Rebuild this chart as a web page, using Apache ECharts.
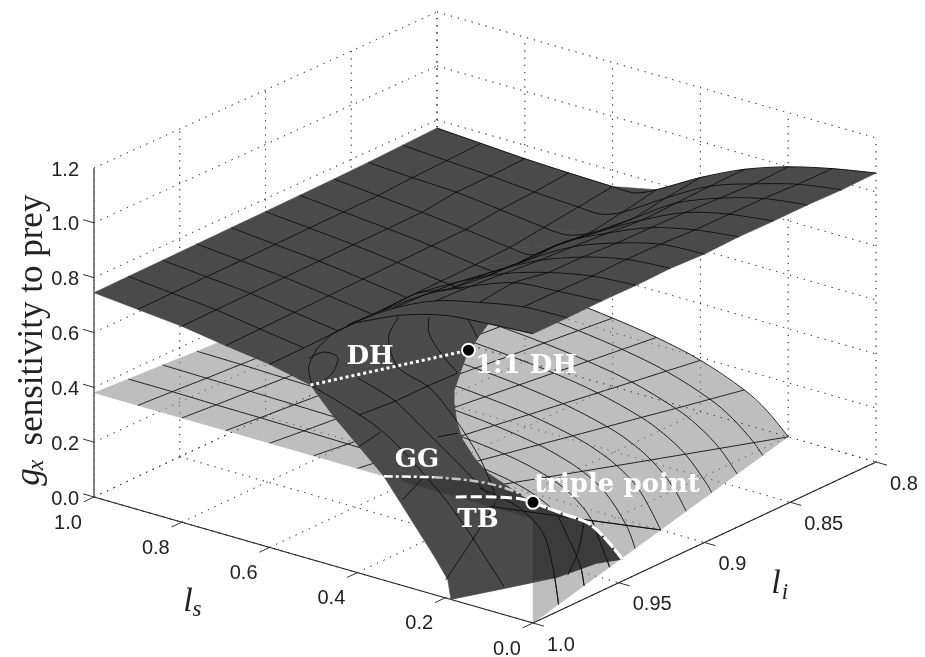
<!DOCTYPE html>
<html><head><meta charset="utf-8">
<script src="https://cdn.jsdelivr.net/npm/echarts@6/dist/echarts.min.js"></script>
<style>html,body{margin:0;padding:0;background:#fff}#c{width:925px;height:657px}</style></head>
<body><div id="c"></div>
<script>
// ---- tick labels ----
const lsTicks = [1.0, 0.8, 0.6, 0.4, 0.2, 0.0];
const liTicks = [1.0, 0.95, 0.9, 0.85, 0.8];
const gxTicks = [0.0, 0.2, 0.4, 0.6, 0.8, 1.0, 1.2];
const liLabels = ['1.0', '0.95', '0.9', '0.85', '0.8'];

// ---- surface rows: one row per li value ----
const liRows = [1, 0.98, 0.96, 0.94, 0.92, 0.9, 0.88, 0.86, 0.84, 0.82, 0.8];

// lower (light) sheet, gx by li row and ls column; null = past the gx=0 rim
const lowLs = [0.05, 0.1, 0.15, 0.2, 0.25, 0.3, 0.4, 0.5, 0.6, 0.7, 0.8, 0.9, 1];
const lowGx = [
  [.38, .38, .38, .38, .38, .38, .38, .38, .38, .38, .38, .38, .38],
  [.228, .304, .329, .342, .35, .355, .361, .365, .367, .369, .37, .372, .372],
  [.076, .228, .279, .304, .319, .329, .342, .35, .355, .358, .361, .363, .365],
  [null, .152, .228, .266, .289, .304, .323, .334, .342, .347, .351, .355, .357],
  [null, .076, .177, .228, .258, .279, .304, .319, .329, .337, .342, .346, .35],
  [null, null, .127, .19, .228, .253, .285, .304, .317, .326, .332, .338, .342],
  [null, null, .076, .152, .198, .228, .266, .289, .304, .315, .323, .329, .334],
  [null, null, .025, .114, .167, .203, .247, .274, .291, .304, .314, .321, .327],
  [null, null, null, .076, .137, .177, .228, .258, .279, .293, .304, .312, .319],
  [null, null, null, .038, .106, .152, .209, .243, .266, .282, .294, .304, .312],
  [null, null, null, null, .076, .127, .19, .228, .253, .271, .285, .296, .304]
];
// ls at which each light row reaches gx = 0
const lowRimLs = [0, .02, .04, .06, .08, .1, .12, .14, .16, .18, .2];

// upper flat part of the dark sheet
const flatLs = [1, 0.9, 0.8, 0.7, 0.6, 0.55];
const flatGx = [
  [.745, .73, .715, .69, .668, null],
  [.747, .732, .717, .693, .67, null],
  [.748, .734, .719, .696, .674, null],
  [.75, .735, .72, .699, .677, null],
  [.752, .737, .722, .702, .68, null],
  [.753, .739, .724, .705, .683, .675],
  [.755, .74, .725, .708, .685, .677],
  [.757, .742, .727, .71, .69, .686],
  [.76, .75, .743, .725, .706, .702],
  [.765, .755, .745, .732, .723, .72],
  [.77, .76, .75, .744, .74, .74]
];
// raised wing of the dark sheet
const wingLs = [0.5, 0.4, 0.3, 0.2, 0.1, 0];
const wingGx = [
  [.73, .912, .985, 1.03, 1.045, 1.055],
  [.8, .905, .98, 1.02, 1.05, 1.056],
  [.795, .9, .975, 1.035, 1.05, 1.06],
  [.8, .89, .965, 1.015, 1.048, 1.06],
  [.76, .87, .955, 1.014, 1.052, 1.065],
  [.745, .855, .948, 1.008, 1.05, 1.06],
  [.74, .86, .94, 1.007, 1.045, 1.066],
  [.74, .84, .93, 1.005, 1.045, 1.066],
  [.73, .83, .935, 1.0, 1.045, 1.068],
  [.75, .85, .94, .995, 1.04, 1.066],
  [.775, .867, .944, 1.0, 1.04, 1.07]
];
// li = 1 edge of the descending tongue: [ls, gx]
const tongueEdge = [[.6, .668], [.507, .635], [.454, .544], [.4, .466], [.342, .383], [.3, .296], [.263, .219], [.225, .14], [.194, .068], [.187, 0]];
// gx = 0 rim of the tongue: [ls, li]
const tongueRim = [[.187, 1], [.145, .98], [.104, .96], [.09, .94], [.066, .931]];
// fold silhouette at li = 1: [ls, gx]
const foldEdge = [[.1, 1.05], [.125, .985], [.153, .9], [.164, .847], [.18, .765], [.18, .717], [.174, .655], [.16, .595], [.133, .54], [.103, .5], [.046, .465], [0, .44]];
// extra mesh curves on the fold at li = 1: [ls, gx]
const foldCurves = [
  [[.5, .631], [.347, .545], [.217, .385], [.142, .256], [.066, .101]],
  [[.4, .71], [.317, .667], [.24, .583], [.171, .505], [.096, .415]],
  [[.306, .975], [.329, .892], [.308, .792], [.237, .751], [.18, .668], [.119, .54], [.082, .411]],
  [[.237, 1.007], [.237, .948], [.21, .888], [.171, .833]],
  [[.148, 1.04], [.126, .982]],
  [[.511, .73], [.477, .769], [.445, .765], [.457, .702], [.5, .631]],
  [[.397, .576], [.308, .672], [.24, .754], [.171, .833]],
  [[.397, .46], [.347, .537]],
  [[.217, .579], [.171, .614]],
  [[.297, .312], [.249, .418]],
  [[.199, .065], [.119, .295], [.084, .403]],
  [[.491, .777], [.511, .70], [.502, .63]],
  [[.4, .914], [.454, .849], [.491, .777]]
];
// bifurcation curves: [ls, li, gx]
const curveDH = [[.507, 1, .635], [.451, .968, .632], [.395, .9365, .63]];
const curveGGa = [[.34, 1, .379], [.226, 1, .428]];
const curveGGb = [[.226, 1, .428], [.148, 1, .453], [.089, 1, .463], [.027, 1, .458], [0, 1, .443]];
const curveTB = [[.176, 1, .379], [.089, 1, .419], [.027, 1, .44], [0, 1, .44]];
const curveRim = [[0, 1, .44], [.014, .98, .336], [.031, .96, .234], [.053, .945, .128], [.066, .931, 0]];
const pointDH = [.395, .9365, .63];
const pointTriple = [0, 1, .44];
const bandPts = [[.3, 1, .38], [0, 1, .38], [0, 1, .157], [.104, .96, 0], [.09, .94, 0], [.066, .931, 0], [.053, .945, .128], [.031, .96, .234], [.014, .98, .336], [0, 1, .44], [.027, 1, .458], [.089, 1, .463], [.148, 1, .453], [.226, 1, .428], [.3, 1, .392]];
const rimCross = [[.04, .96, .23], [.054, .96, .118], [.077, .96, .022]];

// ---- view box: pixel position of the eight data-space corners ----
const box = {
  a0: [94, 497], b0: [533, 623], d0: [437, 336], c0: [876, 462],
  a1: [94, 168], b1: [533, 294], d1: [437, 12], c1: [876, 138]
};
function project(p) {
  const u = 1 - p[0], v = (1 - p[1]) / 0.2, w = p[2] / 1.2;
  const f = i => {
    const lo = (box.a0[i] * (1 - u) + box.b0[i] * u) * (1 - v) + (box.d0[i] * (1 - u) + box.c0[i] * u) * v;
    const hi = (box.a1[i] * (1 - u) + box.b1[i] * u) * (1 - v) + (box.d1[i] * (1 - u) + box.c1[i] * u) * v;
    return lo * (1 - w) + hi * w;
  };
  return [f(0), f(1)];
}

function layer(items) {
  return {
    type: 'custom', coordinateSystem: 'cartesian2d', clip: false, silent: true, animation: false,
    data: items.map((_, i) => [i, i]),
    renderItem(params, api) {
      const it = items[params.dataIndex];
      if (it.text !== undefined) {
        const c = api.coord(it.at);
        return { type: 'text', x: c[0], y: c[1], rotation: it.rot || 0, silent: true,
          style: { text: it.text, font: it.font, fill: it.color || '#222', textAlign: it.align || 'center', textVerticalAlign: 'middle', align: it.align || 'center', verticalAlign: 'middle' } };
      }
      if (it.dot) {
        const c = api.coord(project(it.dot));
        return { type: 'circle', shape: { cx: c[0], cy: c[1], r: 6.5 }, silent: true, style: { fill: '#000', stroke: '#fff', lineWidth: 2 } };
      }
      const pts = it.pts.map(p => api.coord(project(p)));
      return { type: it.fill ? 'polygon' : 'polyline', silent: true,
        shape: { points: pts, smooth: it.smooth || 0 },
        style: { fill: it.fill || 'none', stroke: it.stroke || it.fill, lineWidth: it.w === undefined ? 1 : it.w, lineDash: it.dash || null, opacity: it.op === undefined ? 1 : it.op } };
    }
  };
}

// ---- walls and floor ----
const dotted = [];
const dot = { stroke: '#333', w: 1, dash: [1.2, 6], op: 0.75 };
gxTicks.forEach(z => {
  dotted.push({ pts: [[1, 1, z], [1, .8, z]], ...dot });
  dotted.push({ pts: [[1, .8, z], [0, .8, z]], ...dot });
});
liTicks.forEach(li => {
  dotted.push({ pts: [[1, li, 0], [1, li, 1.2]], ...dot });
  dotted.push({ pts: [[1, li, 0], [0, li, 0]], ...dot });
});
lsTicks.forEach(ls => {
  dotted.push({ pts: [[ls, .8, 0], [ls, .8, 1.2]], ...dot });
  dotted.push({ pts: [[ls, 1, 0], [ls, .8, 0]], ...dot });
});

// ---- light sheet ----
const LIGHT = '#bebebe', DARK = '#4a4a4a', DARKER = '#3b3b3b';
function lowRow(r) {
  const out = [[lowRimLs[r], liRows[r], 0]];
  lowLs.forEach((ls, c) => { if (lowGx[r][c] !== null) out.push([ls, liRows[r], lowGx[r][c]]); });
  return out;
}
const lowRows = liRows.map((_, r) => lowRow(r));
lowRows[0][0] = [0, 1, .38];
const lowFill = [];
{
  const pts = [[0, 1, 0]];
  lowRimLs.forEach((ls, r) => { if (r) pts.push([ls, liRows[r], 0]); });
  lowRows[10].slice(1).forEach(p => pts.push(p));
  for (let r = 9; r >= 0; r--) pts.push([1, liRows[r], lowGx[r][12]]);
  lowRows[0].slice().reverse().forEach(p => pts.push(p));
  lowFill.push({ pts, fill: LIGHT, w: .5 });
}
const lowMesh = [];
lowRows.forEach((row, r) => { if (r) lowMesh.push({ pts: row, stroke: '#111', w: 1, smooth: .35, op: .9 }); });
[.1, .2, .3, .4, .5, .6, .7, .8, .9].forEach(ls => {
  const c = lowLs.findIndex(v => Math.abs(v - ls) < 1e-6);
  const pts = [];
  liRows.forEach((li, r) => { if (lowGx[r][c] !== null) pts.push([ls, li, lowGx[r][c]]); });
  if (ls <= .2) pts.push([ls, 1 - ls, 0]);
  lowMesh.push({ pts, stroke: '#111', w: 1, smooth: .35, op: .9 });
});

// ---- dark sheet ----
const darkFill = [];
for (let r = 0; r < 10; r++) {
  for (let c = 0; c < 4; c++) {
    darkFill.push({ fill: DARK, w: .6, pts: [
      [flatLs[c], liRows[r], flatGx[r][c]], [flatLs[c + 1], liRows[r], flatGx[r][c + 1]],
      [flatLs[c + 1], liRows[r + 1], flatGx[r + 1][c + 1]], [flatLs[c], liRows[r + 1], flatGx[r + 1][c]]] });
  }
  darkFill.push({ fill: DARK, w: .6, pts: [
    [.6, liRows[r], flatGx[r][4]], [.5, liRows[r], wingGx[r][0]],
    [.5, liRows[r + 1], wingGx[r + 1][0]], [.6, liRows[r + 1], flatGx[r + 1][4]]] });
  for (let c = 0; c < 5; c++) {
    darkFill.push({ fill: DARK, w: .6, pts: [
      [wingLs[c], liRows[r], wingGx[r][c]], [wingLs[c + 1], liRows[r], wingGx[r][c + 1]],
      [wingLs[c + 1], liRows[r + 1], wingGx[r + 1][c + 1]], [wingLs[c], liRows[r + 1], wingGx[r + 1][c]]] });
  }
}
{
  const pts = [];
  tongueEdge.forEach(e => pts.push([e[0], 1, e[1]]));
  tongueRim.slice(1).forEach(e => pts.push([e[0], e[1], 0]));
  curveRim.slice().reverse().slice(1).forEach(p => pts.push(p));
  foldEdge.slice().reverse().slice(1).forEach(e => pts.push([e[0], 1, e[1]]));
  darkFill.push({ pts, fill: DARK, w: .6 });
  // under the arch of the fold
  const arch = [];
  [[.511, .70], [.491, .777], [.454, .849], [.4, .914], [.308, .982], [.226, 1.019], [.148, 1.044], [.1, 1.05]].forEach(e => arch.push([e[0], 1, e[1]]));
  foldEdge.slice(1, 7).forEach(e => arch.push([e[0], 1, e[1]]));
  darkFill.push({ pts: arch, fill: DARK, w: .6 });
}
const band = [{ pts: bandPts, fill: DARKER, w: .3 }];

const darkMesh = [];
const meshStyle = { stroke: '#0c0c0c', w: 1, smooth: .3, op: .9 };
liRows.forEach((li, r) => {
  if (r === 0) return;
  const flat = [];
  flatLs.forEach((ls, c) => { if (flatGx[r][c] !== null) flat.push([ls, li, flatGx[r][c]]); });
  const wing = wingLs.map((ls, c) => [ls, li, wingGx[r][c]]);
  if (r >= 7) {
    darkMesh.push({ pts: flat.concat(wing), ...meshStyle });
  } else {
    darkMesh.push({ pts: flat, ...meshStyle });
    darkMesh.push({ pts: wing, ...meshStyle });
  }
});
darkMesh.push({ pts: wingLs.map((ls, c) => [ls, 1, wingGx[0][c]]).slice(1), ...meshStyle });
flatLs.slice(1, 5).forEach((ls, c) => {
  darkMesh.push({ pts: liRows.map((li, r) => [ls, li, flatGx[r][c + 1]]), ...meshStyle, smooth: 0 });
});
wingLs.slice(0, 5).forEach((ls, c) => {
  darkMesh.push({ pts: liRows.map((li, r) => [ls, li, wingGx[r][c]]).slice(1), ...meshStyle, smooth: .2 });
});
foldCurves.forEach(cv => darkMesh.push({ pts: cv.map(e => [e[0], 1, e[1]]), ...meshStyle }));
darkMesh.push({ pts: rimCross, ...meshStyle });
// light mesh seen through the tongue near the rim
[1, 2, 3].forEach(r => {
  const row = lowRows[r].filter(p => p[0] <= (r === 1 ? .2 : .1));
  darkMesh.push({ pts: row, stroke: '#0c0c0c', w: 1, smooth: .35, op: .9 });
});
darkMesh.push({ pts: liRows.slice(0, 5).map((li, r) => [.1, li, lowGx[r][1]]).concat([[.1, .9, 0]]), stroke: '#0c0c0c', w: 1, smooth: .3, op: .9 });

// ---- axes ----
const axes = [
  { pts: [[1, 1, 0], [1, 1, 1.2]], stroke: '#666', w: 1.6 },
  { pts: [[1, 1, 0], [0, 1, 0]], stroke: '#222', w: 1.2 },
  { pts: [[0, 1, 0], [0, .8, 0]], stroke: '#222', w: 1.2 }
];
lsTicks.forEach(ls => axes.push({ pts: [[ls, 1, 0], [ls, 1.006, 0]], stroke: '#333', w: 1 }));
liTicks.forEach(li => axes.push({ pts: [[0, li, 0], [-.025, li, 0]], stroke: '#333', w: 1 }));
gxTicks.slice(0, 6).forEach(z => axes.push({ pts: [[1.025, 1, z], [1, 1, z]], stroke: '#333', w: 1 }));

// ---- text ----
const tickFont = '20px "Liberation Sans"';
const texts = [];
gxTicks.forEach(z => {
  const p = project([1, 1, z]);
  texts.push({ text: z.toFixed(1), at: [p[0] - 15, p[1] + 2], font: tickFont, align: 'right' });
});
lsTicks.forEach(ls => {
  const p = project([ls, 1, 0]);
  texts.push({ text: ls.toFixed(1), at: [p[0] - 26, p[1] + 26], font: tickFont });
});
liTicks.forEach((li, i) => {
  const p = project([0, li, 0]);
  texts.push({ text: liLabels[i], at: [p[0] + 14, p[1] + 22], font: tickFont, align: 'left' });
});
const sf = '"Liberation Serif"', wf = '"DejaVu Serif"';
texts.push({ text: 'sensitivity to prey', at: [33, 320], rot: Math.PI / 2, font: `35px ${sf}` });
texts.push({ text: 'g', at: [30, 477], rot: Math.PI / 2, font: `italic 35px ${sf}` });
texts.push({ text: 'x', at: [37, 465], rot: Math.PI / 2, font: `italic 24px ${sf}` });
texts.push({ text: 'l', at: [188, 602], font: `italic 34px ${sf}` });
texts.push({ text: 's', at: [197, 610], font: `italic 23px ${sf}` });
texts.push({ text: 'l', at: [776, 584], font: `italic 34px ${sf}` });
texts.push({ text: 'i', at: [785, 593], font: `italic 23px ${sf}` });
const lab = (t, x, y) => texts.push({ text: t, at: [x, y], color: '#fff', font: `bold 26px ${wf}` });
lab('DH', 370, 357); lab('1:1 DH', 526, 366); lab('GG', 417, 460); lab('TB', 478, 520); lab('triple point', 617, 485);

const curves = [
  { pts: curveDH, stroke: '#fff', w: 3, dash: [3, 3] },
  { pts: curveGGa, stroke: '#fff', w: 2.5, dash: [9, 3, 3, 3] },
  { pts: curveGGb, stroke: '#c4c4c4', w: 2.5, dash: [9, 3, 3, 3], smooth: .3 },
  { pts: curveTB, stroke: '#fff', w: 3, dash: [11, 4], smooth: .3 },
  { pts: curveRim, stroke: '#fff', w: 3.2, dash: [14, 2], smooth: .3 },
  { dot: pointDH }, { dot: pointTriple }
];

const chart = echarts.init(document.getElementById('c'), null, { renderer: 'canvas' });
chart.setOption({
  backgroundColor: '#fff', animation: false, tooltip: { show: false },
  grid: { left: 0, right: 0, top: 0, bottom: 0 },
  xAxis: { type: 'value', min: 0, max: 925, show: false },
  yAxis: { type: 'value', min: 0, max: 657, inverse: true, show: false },
  series: [layer(dotted), layer(lowFill), layer(lowMesh), layer(dotted), layer(axes), layer(darkFill), layer(band), layer(darkMesh), layer(curves), layer(texts)]
});
</script></body></html>
